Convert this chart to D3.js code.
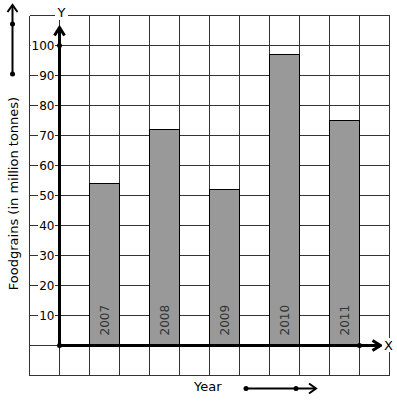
<!DOCTYPE html>
<html>
<head>
	<title>foodgrains</title>
	<style>
	body { margin: 0; background: #fff; }
	text { font-family: "DejaVu Sans", sans-serif; font-size: 12px; }
	.big { font-size: 13px; }
	.grid line { stroke: #333; stroke-width: 1; shape-rendering: crispEdges; }
	.bar { fill: #999; stroke: #000; stroke-width: 1; shape-rendering: crispEdges; }
	.yearlabel { fill: #333; }
	.axis { stroke: #000; stroke-width: 3; fill: none; }
	</style>
	<script src="https://d3js.org/d3.v7.min.js"></script>
</head>
<body>
	<script type="text/javascript">
		var years = ['2007', '2008', '2009', '2010', '2011'];
		var foodgrains = [54, 72, 52, 97, 75];
		var yTicks = [10, 20, 30, 40, 50, 60, 70, 80, 90, 100];

		var width = 397, height = 401;

		var svg = d3.select('body').append('svg')
			.attr('width', width)
			.attr('height', height);

		// 网格：每格 30px，列号 -1..11，数值 -10..110
		var x = d3.scaleLinear().domain([-1, 11]).range([29.5, 389.5]);
		var y = d3.scaleLinear().domain([-10, 110]).range([375.5, 15.5]);

		var grid = svg.append('g').attr('class', 'grid');
		grid.selectAll('.v').data(d3.range(-1, 12)).enter().append('line')
			.attr('x1', function (d) { return x(d); })
			.attr('x2', function (d) { return x(d); })
			.attr('y1', y(110)).attr('y2', y(-10));
		grid.selectAll('.h').data(d3.range(-10, 120, 10)).enter().append('line')
			.attr('y1', function (d) { return y(d); })
			.attr('y2', function (d) { return y(d); })
			.attr('x1', x(-1)).attr('x2', x(11));

		// 柱子
		svg.selectAll('.bar').data(foodgrains).enter().append('rect')
			.attr('class', 'bar')
			.attr('x', function (d, i) { return x(1 + 2 * i); })
			.attr('width', x(2) - x(1))
			.attr('y', function (d) { return y(d); })
			.attr('height', function (d) { return y(0) - y(d); });

		svg.selectAll('.yearlabel').data(years).enter().append('text')
			.attr('class', 'yearlabel')
			.attr('transform', function (d, i) {
				return 'translate(' + (x(1.5 + 2 * i) + 4) + ',' + (y(0) - 10) + ') rotate(-90)';
			})
			.text(function (d) { return d; });

		// 坐标轴
		var ox = x(0), oy = y(0);
		svg.append('line').attr('class', 'axis')
			.attr('x1', ox).attr('y1', oy).attr('x2', ox).attr('y2', y(106));
		svg.append('path').attr('class', 'axis').attr('stroke-width', 2)
			.attr('d', 'M' + (ox - 5) + ',' + (y(106) + 8) + 'L' + ox + ',' + y(106) + 'L' + (ox + 5) + ',' + (y(106) + 8));
		svg.append('line').attr('class', 'axis')
			.attr('x1', ox).attr('y1', oy).attr('x2', x(10.7)).attr('y2', oy);
		svg.append('path').attr('class', 'axis').attr('stroke-width', 2)
			.attr('d', 'M' + (x(10.7) - 8) + ',' + (oy - 5) + 'L' + x(10.7) + ',' + oy + 'L' + (x(10.7) - 8) + ',' + (oy + 5));

		[[ox, oy], [ox, y(100)], [x(10), oy]].forEach(function (p) {
			svg.append('circle').attr('cx', p[0]).attr('cy', p[1]).attr('r', 2.5).attr('fill', '#000');
		});

		// 刻度文字，白底遮住网格线
		var tg = svg.selectAll('.tick').data(yTicks).enter().append('g');
		tg.append('rect')
			.attr('x', function (d) { return d >= 100 ? 30.5 : 38; })
			.attr('y', function (d) { return y(d) - 7; })
			.attr('width', function (d) { return d >= 100 ? 24.5 : 17; })
			.attr('height', 14)
			.attr('fill', '#fff');
		tg.append('text')
			.attr('x', 54.5)
			.attr('y', function (d) { return y(d); })
			.attr('text-anchor', 'end')
			.attr('dominant-baseline', 'central')
			.attr('fill', '#000')
			.text(function (d) { return d; });

		// 轴名
		svg.append('rect').attr('x', 55).attr('y', 8).attr('width', 13).attr('height', 12).attr('fill', '#fff');
		svg.append('text').attr('class', 'big').attr('x', 61.5).attr('y', 12).attr('text-anchor', 'middle')
			.attr('dominant-baseline', 'central').text('Y');
		svg.append('rect').attr('x', 382).attr('y', 338).attr('width', 13).attr('height', 14).attr('fill', '#fff');
		svg.append('text').attr('class', 'big').attr('x', 388.5).attr('y', oy).attr('text-anchor', 'middle')
			.attr('dominant-baseline', 'central').text('X');

		svg.append('text').attr('class', 'big')
			.attr('transform', 'translate(17.5,193.5) rotate(-90)')
			.attr('text-anchor', 'middle')
			.text('Foodgrains (in million tonnes)');
		svg.append('text').attr('class', 'big').attr('x', 194).attr('y', 391).text('Year');

		// 方向箭头
		function arrowLine(x1, y1, x2, y2, dots, horiz) {
			svg.append('line').attr('x1', x1).attr('y1', y1).attr('x2', x2).attr('y2', y2)
				.attr('stroke', '#000').attr('stroke-width', 2);
			var d = horiz
				? 'M' + (x2 - 7) + ',' + (y2 - 5) + 'L' + x2 + ',' + y2 + 'L' + (x2 - 7) + ',' + (y2 + 5)
				: 'M' + (x2 - 5) + ',' + (y2 + 7) + 'L' + x2 + ',' + y2 + 'L' + (x2 + 5) + ',' + (y2 + 7);
			svg.append('path').attr('d', d).attr('fill', 'none').attr('stroke', '#000').attr('stroke-width', 2);
			dots.forEach(function (p) {
				svg.append('circle').attr('cx', p[0]).attr('cy', p[1]).attr('r', 2.5).attr('fill', '#000');
			});
		}
		arrowLine(12.5, 74, 12.5, 5, [[12.5, 24], [12.5, 74]], false);
		arrowLine(246, 388.5, 316, 388.5, [[246, 388.5], [296, 388.5]], true);
	</script>
</body>
</html>
